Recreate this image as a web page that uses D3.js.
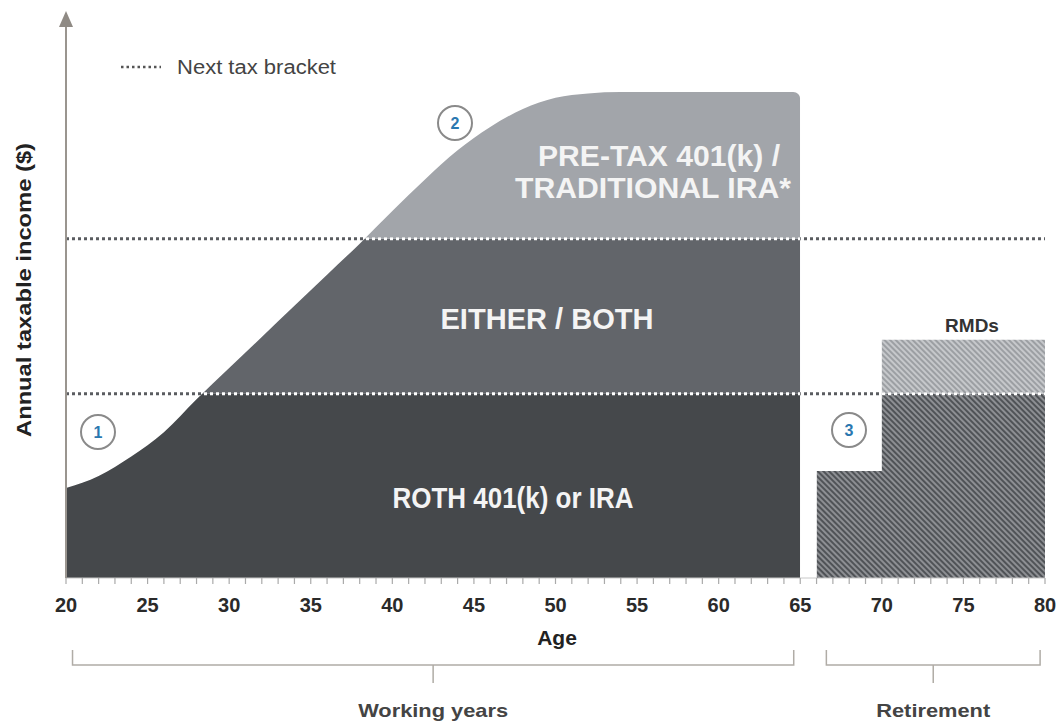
<!DOCTYPE html>
<html>
<head>
<meta charset="utf-8">
<script src="https://cdn.jsdelivr.net/npm/d3@7"></script>
<style>
  body { margin: 0; background: #fff; }
  text { font-family: "Liberation Sans", Arial, sans-serif; }
</style>
</head>
<body>
<div id="chart"></div>
<script>
// working-years income curve (relative income, 100 = peak)
const ages   = [20, 22, 24, 26, 28, 30, 32, 34, 36, 38, 40, 42, 44, 46, 48, 50, 52, 54, 65];
const income = [18.5, 21, 25, 30, 36.8, 43.2, 49.6, 56, 62.4, 68.8, 75.5, 82, 88, 92.8, 96.5, 98.8, 99.7, 100, 100];

// retirement income steps
const retireAges   = [66, 70, 80];
const retireIncome = [22, 49, 49];

// tax bracket thresholds
const brackets = [37.9, 69.8];

const tickAges = d3.range(20, 81, 5);
const minorAges = d3.range(20, 81, 1);

const width = 1059, height = 723;
const svg = d3.select("#chart").append("svg")
    .attr("width", width)
    .attr("height", height);

const x = d3.scaleLinear().domain([20, 80]).range([66, 1045]);
const y = d3.scaleLinear().domain([0, 100]).range([578, 92]);

const defs = svg.append("defs");

// hatch patterns
function hatch(id, bg, fg) {
    const p = defs.append("pattern")
        .attr("id", id)
        .attr("patternUnits", "userSpaceOnUse")
        .attr("width", 4).attr("height", 4)
        .attr("patternTransform", "rotate(-45)");
    p.append("rect").attr("width", 4).attr("height", 4).attr("fill", bg);
    p.append("rect").attr("width", 2).attr("height", 4).attr("fill", fg);
}
hatch("hatchDark", "#8d8f93", "#505357");
hatch("hatchLight", "#c6c8cb", "#9c9fa3");

const workData = ages.map((a, i) => ({ age: a, v: income[i] }));
const retireData = retireAges.map((a, i) => ({ age: a, v: retireIncome[i] }));

const workArea = d3.area()
    .x(d => x(d.age))
    .y0(y(0))
    .y1(d => y(d.v))
    .curve(d3.curveMonotoneX);

const retireArea = d3.area()
    .x(d => x(d.age))
    .y0(y(0))
    .y1(d => y(d.v))
    .curve(d3.curveStepAfter);

defs.append("clipPath").attr("id", "workClip")
    .append("path").attr("d", workArea(workData));

defs.append("clipPath").attr("id", "cornerClip")
    .append("rect")
    .attr("x", x(20) - 10).attr("y", y(100))
    .attr("width", x(65) - x(20) + 10)
    .attr("height", y(0) - y(100) + 10)
    .attr("rx", 7);

defs.append("clipPath").attr("id", "retireClip")
    .append("path").attr("d", retireArea(retireData));

const filledClip = defs.append("clipPath").attr("id", "filledClip");
filledClip.append("path").attr("d", workArea(workData));
filledClip.append("path").attr("d", retireArea(retireData));

// bands for working years
const bands = [
    { lo: 0, hi: brackets[0], fill: "#45484b" },
    { lo: brackets[0], hi: brackets[1], fill: "#62656a" },
    { lo: brackets[1], hi: 105, fill: "#a2a5aa" }
];

svg.append("g")
    .attr("clip-path", "url(#cornerClip)")
    .append("g")
    .attr("clip-path", "url(#workClip)")
    .selectAll("rect")
    .data(bands)
    .join("rect")
    .attr("x", x(20))
    .attr("width", x(65) - x(20))
    .attr("y", d => y(d.hi))
    .attr("height", d => y(d.lo) - y(d.hi))
    .attr("fill", d => d.fill);

// retirement hatched blocks
const retireBands = [
    { lo: 0, hi: brackets[0], fill: "url(#hatchDark)" },
    { lo: brackets[0], hi: 105, fill: "url(#hatchLight)" }
];
svg.append("g")
    .attr("clip-path", "url(#retireClip)")
    .selectAll("rect")
    .data(retireBands)
    .join("rect")
    .attr("x", x(66))
    .attr("width", x(80) - x(66))
    .attr("y", d => y(d.hi))
    .attr("height", d => y(d.lo) - y(d.hi))
    .attr("fill", d => d.fill);

// bracket dotted lines: dark on white, white on fills
svg.append("g")
    .selectAll("line")
    .data(brackets)
    .join("line")
    .attr("x1", x(20)).attr("x2", x(80))
    .attr("y1", d => y(d)).attr("y2", d => y(d))
    .attr("stroke", "#5a5c60")
    .attr("stroke-width", 3)
    .attr("stroke-dasharray", "3,3");

svg.append("g")
    .attr("clip-path", "url(#filledClip)")
    .selectAll("line")
    .data(brackets)
    .join("line")
    .attr("x1", x(20)).attr("x2", x(80))
    .attr("y1", d => y(d)).attr("y2", d => y(d))
    .attr("stroke", "#ffffff")
    .attr("stroke-width", 3)
    .attr("stroke-dasharray", "3,3");

// x axis
svg.append("line")
    .attr("x1", x(20)).attr("x2", x(80))
    .attr("y1", y(0)).attr("y2", y(0))
    .attr("stroke", "#c8c8c8");

svg.append("g")
    .selectAll("line")
    .data(minorAges)
    .join("line")
    .attr("x1", d => x(d)).attr("x2", d => x(d))
    .attr("y1", y(0)).attr("y2", y(0) + 6)
    .attr("stroke", "#aaaaaa")
    .attr("stroke-width", 1.2);

svg.append("g")
    .selectAll("text")
    .data(tickAges)
    .join("text")
    .attr("x", d => x(d))
    .attr("y", 612)
    .attr("text-anchor", "middle")
    .attr("font-size", 20)
    .attr("font-weight", "bold")
    .attr("fill", "#2a2a2a")
    .text(d => d);

svg.append("text")
    .attr("x", 557).attr("y", 645)
    .attr("text-anchor", "middle")
    .attr("font-size", 21)
    .attr("font-weight", "bold")
    .attr("fill", "#222")
    .text("Age");

// y axis with arrow
svg.append("line")
    .attr("x1", x(20)).attr("x2", x(20))
    .attr("y1", y(0)).attr("y2", 24)
    .attr("stroke", "#9a958f")
    .attr("stroke-width", 2);
svg.append("path")
    .attr("d", `M${x(20)},11 L${x(20) - 7},27 L${x(20) + 7},27 Z`)
    .attr("fill", "#8f8a84");

svg.append("text")
    .attr("transform", "translate(31,290) rotate(-90)")
    .attr("text-anchor", "middle")
    .attr("font-size", 20)
    .attr("font-weight", "bold")
    .attr("fill", "#222")
    .attr("textLength", 294)
    .attr("lengthAdjust", "spacingAndGlyphs")
    .text("Annual taxable income ($)");

// legend
svg.append("line")
    .attr("x1", 121).attr("x2", 161)
    .attr("y1", 67).attr("y2", 67)
    .attr("stroke", "#555")
    .attr("stroke-width", 2.5)
    .attr("stroke-dasharray", "2.5,3");
svg.append("text")
    .attr("x", 177).attr("y", 74)
    .attr("font-size", 20)
    .attr("fill", "#444")
    .attr("textLength", 159)
    .attr("lengthAdjust", "spacingAndGlyphs")
    .text("Next tax bracket");

// area labels
const areaLabels = [
    { text: "PRE-TAX 401(k) /", x: 659, y: 166, w: 242 },
    { text: "TRADITIONAL IRA*", x: 653, y: 198, w: 276 },
    { text: "EITHER / BOTH", x: 547, y: 329, w: 213 },
    { text: "ROTH 401(k) or IRA", x: 513, y: 508, w: 241 }
];
svg.append("g")
    .selectAll("text")
    .data(areaLabels)
    .join("text")
    .attr("x", d => d.x).attr("y", d => d.y)
    .attr("text-anchor", "middle")
    .attr("font-size", 29)
    .attr("font-weight", "bold")
    .attr("fill", "#f4f4f4")
    .attr("textLength", d => d.w)
    .attr("lengthAdjust", "spacingAndGlyphs")
    .text(d => d.text);

svg.append("text")
    .attr("x", 972).attr("y", 332)
    .attr("text-anchor", "middle")
    .attr("font-size", 19)
    .attr("font-weight", "bold")
    .attr("fill", "#333")
    .text("RMDs");

// numbered circles
const markers = [
    { n: "1", x: 98, y: 432 },
    { n: "2", x: 455, y: 123 },
    { n: "3", x: 849, y: 430 }
];
const mk = svg.append("g").selectAll("g").data(markers).join("g")
    .attr("transform", d => `translate(${d.x},${d.y})`);
mk.append("circle")
    .attr("r", 17)
    .attr("fill", "#fff")
    .attr("stroke", "#8a8a8a")
    .attr("stroke-width", 2);
mk.append("text")
    .attr("y", 6)
    .attr("text-anchor", "middle")
    .attr("font-size", 16)
    .attr("font-weight", "bold")
    .attr("fill", "#2a78b0")
    .text(d => d.n);

// period brackets
const periods = [
    { name: "Working years", from: 20.4, to: 64.6, w: 150 },
    { name: "Retirement", from: 66.6, to: 79.7, w: 114 }
];
const pg = svg.append("g").selectAll("g").data(periods).join("g");
pg.append("path")
    .attr("d", d => {
        const mid = (x(d.from) + x(d.to)) / 2;
        return `M${x(d.from)},650 V665 H${x(d.to)} V650 M${mid},665 V683`;
    })
    .attr("fill", "none")
    .attr("stroke", "#b0aca6")
    .attr("stroke-width", 1.5);
pg.append("text")
    .attr("x", d => (x(d.from) + x(d.to)) / 2)
    .attr("y", 717)
    .attr("text-anchor", "middle")
    .attr("font-size", 19)
    .attr("font-weight", "bold")
    .attr("fill", "#444")
    .attr("textLength", d => d.w)
    .attr("lengthAdjust", "spacingAndGlyphs")
    .text(d => d.name);
</script>
</body>
</html>
